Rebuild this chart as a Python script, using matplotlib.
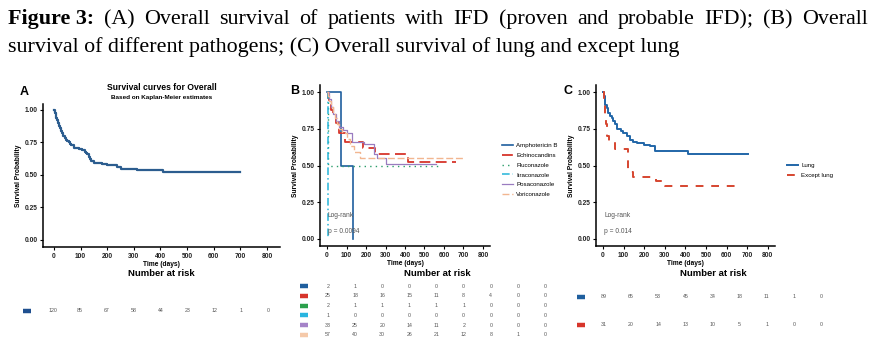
import matplotlib
matplotlib.use("Agg")
import matplotlib.pyplot as plt

# ── data ──────────────────────────────────────────────────────────────────────
TICKS = [0, 100, 200, 300, 400, 500, 600, 700, 800]

# A: overall KM curve
A_T = [0, 3, 6, 9, 12, 15, 18, 22, 26, 30, 35, 40, 45, 50, 55, 60, 65, 75, 85, 95,
       105, 115, 120, 125, 130, 135, 140, 150, 165, 180, 200, 220, 235, 250, 310, 410, 700]
A_S = [1.0, 0.98, 0.96, 0.94, 0.92, 0.90, 0.88, 0.86, 0.84, 0.82, 0.80, 0.785, 0.77, 0.76,
       0.75, 0.74, 0.73, 0.71, 0.705, 0.70, 0.69, 0.68, 0.67, 0.66, 0.64, 0.62, 0.605, 0.595,
       0.59, 0.585, 0.58, 0.575, 0.565, 0.545, 0.535, 0.52, 0.52]
A_RISK = [120, 85, 67, 58, 44, 23, 12, 1, 0]

# B: pathogens
B_NAMES = ["Amphotericin B", "Echinocandins", "Fluconazole", "Itraconazole",
           "Posaconazole", "Voriconazole"]
B_T = [
    [0, 70, 132],
    [0, 5, 12, 20, 30, 45, 60, 90, 185, 246, 415, 660],
    [0, 5, 570],
    [0, 5],
    [0, 8, 18, 30, 45, 60, 80, 100, 130, 190, 240, 255, 300, 560],
    [0, 5, 10, 20, 30, 40, 50, 60, 75, 100, 120, 140, 170, 705],
]
B_S = [
    [1.0, 0.5, 0.0],
    [1.0, 0.96, 0.92, 0.88, 0.84, 0.79, 0.72, 0.66, 0.62, 0.58, 0.526, 0.526],
    [1.0, 0.5, 0.5],
    [1.0, 0.0],
    [1.0, 0.95, 0.90, 0.85, 0.80, 0.76, 0.74, 0.72, 0.66, 0.645, 0.58, 0.55, 0.51, 0.51],
    [1.0, 0.97, 0.94, 0.90, 0.86, 0.82, 0.78, 0.75, 0.72, 0.68, 0.63, 0.59, 0.55, 0.55],
]
B_RISK = [
    [2, 1, 0, 0, 0, 0, 0, 0, 0],
    [25, 18, 16, 15, 11, 8, 4, 0, 0],
    [2, 1, 1, 1, 1, 1, 0, 0, 0],
    [1, 0, 0, 0, 0, 0, 0, 0, 0],
    [33, 25, 20, 14, 11, 2, 0, 0, 0],
    [57, 40, 30, 26, 21, 12, 8, 1, 0],
]

# C: lung vs except lung
C_NAMES = ["Lung", "Except lung"]
C_T = [
    [0, 3, 8, 12, 18, 25, 34, 42, 50, 60, 69, 85, 98, 115, 130, 145, 163, 200, 227, 251, 413, 702],
    [0, 3, 8, 14, 20, 27, 57, 120, 145, 255, 300, 650],
]
C_S = [
    [1.0, 0.97, 0.93, 0.91, 0.889, 0.86, 0.84, 0.82, 0.80, 0.78, 0.75, 0.735, 0.72, 0.70,
     0.673, 0.66, 0.65, 0.64, 0.635, 0.60, 0.578, 0.578],
    [1.0, 0.91, 0.85, 0.78, 0.70, 0.66, 0.61, 0.458, 0.424, 0.396, 0.363, 0.363],
]
C_RISK = [
    [89, 65, 53, 45, 34, 18, 11, 1, 0],
    [31, 20, 14, 13, 10, 5, 1, 0, 0],
]

CAPTION_1 = ["(A)", "Overall", "survival", "of", "patients", "with", "IFD", "(proven", "and",
             "probable", "IFD);", "(B)", "Overall"]
CAPTION_2 = "survival of different pathogens; (C) Overall survival of lung and except lung"

# ── style ─────────────────────────────────────────────────────────────────────
W, H = 884, 364
SANS = "Liberation Sans"
B_COL = ["#1f5f9e", "#d7352b", "#2a9d6a", "#25b4d8", "#9a7cc0", "#f2b690"]
B_RISK_COL = ["#1f5f9e", "#d7352b", "#2ca04c", "#29b5e0", "#a583c8", "#f5c9a9"]
B_LS = ["-", (0, (6, 3)), (0, (1, 3)), (0, (5, 2, 1, 2)), "-", (0, (5, 2))]
B_LW = [1.2, 1.3, 1.0, 1.1, 0.9, 1.0]
C_COL = ["#2166a8", "#d6452f"]
C_LS = ["-", (0, (4, 4))]

fig = plt.figure(figsize=(W / 100, H / 100), dpi=100)


def px_axes(x0, y0, x1, y1):
    return fig.add_axes([x0 / W, 1 - y1 / H, (x1 - x0) / W, (y1 - y0) / H])


def style(ax, xlim, ylim):
    ax.set_xlim(*xlim); ax.set_ylim(*ylim)
    for s in ["top", "right"]:
        ax.spines[s].set_visible(False)
    for s in ["left", "bottom"]:
        ax.spines[s].set_linewidth(1.1)
    ax.set_xticks(TICKS)
    ax.set_yticks([0, 0.25, 0.5, 0.75, 1.0])
    ax.set_yticklabels(["0.00", "0.25", "0.50", "0.75", "1.00"])
    ax.tick_params(length=2.5, width=0.8, pad=1.5, labelsize=4.8)
    for lab in ax.get_xticklabels() + ax.get_yticklabels():
        lab.set_fontweight("bold"); lab.set_family(SANS); lab.set_color("#222")
    ax.set_xlabel("Time (days)", fontsize=4.8, fontweight="bold", family=SANS, labelpad=1)
    ax.set_ylabel("Survival Probability", fontsize=4.8, fontweight="bold", family=SANS, labelpad=2)


def risk_table(x0, x1, t_at_x0, px_per_day, rows, colors, row_y):
    ax = px_axes(x0, 262, x1, 350)
    ax.set_xlim(t_at_x0, t_at_x0 + (x1 - x0) / px_per_day)
    ax.set_ylim(350, 262)
    ax.axis("off")
    ax.text(0.5, 273, "Number at risk", transform=ax.get_yaxis_transform(),
            ha="center", va="center", fontsize=6.8, fontweight="bold", family=SANS)
    for i, (vals, col) in enumerate(zip(rows, colors)):
        y = row_y[0] + i * row_y[1]
        ax.plot([0.0, 8 / (x1 - x0)], [y, y], color=col, lw=3.2, solid_capstyle="butt",
                transform=ax.get_yaxis_transform())
        for t, v in zip(TICKS, vals):
            ax.text(t, y, str(v), ha="center", va="center", fontsize=3.8, color="#555", family=SANS)
    return ax


# ── caption (line 1 justified between x=8 and x=868) ─────────────────────────
cap_kw = dict(family="Liberation Serif", fontsize=15.8, va="baseline")
r = fig.canvas.get_renderer()
head = fig.text(8 / W, 1 - 24 / H, "Figure 3:", fontweight="bold", **cap_kw)
words = [fig.text(0, 1 - 24 / H, w, **cap_kw) for w in CAPTION_1]
widths = [w.get_window_extent(r).width for w in words]
x = head.get_window_extent(r).x1
gap = (868 - x - sum(widths)) / len(words)
for w, wd in zip(words, widths):
    x += gap
    w.set_x(x / W)
    x += wd
fig.text(8 / W, 1 - 52 / H, CAPTION_2, **cap_kw)

# ── panel A ───────────────────────────────────────────────────────────────────
axA = px_axes(43, 104, 280, 247)
style(axA, (-41.3, 849), (-0.054, 1.046))
axA.step(A_T, A_S, where="post", color="#2c5d8f", lw=1.6)
fig.text(20 / W, 1 - 92 / H, "A", fontsize=9, fontweight="bold", family=SANS, va="center")
fig.text(162 / W, 1 - 87 / H, "Survival curves for Overall", fontsize=6.2, fontweight="bold",
         family=SANS, ha="center", va="center")
fig.text(162 / W, 1 - 97 / H, "Based on Kaplan-Meier estimates", fontsize=4.6,
         fontweight="bold", family=SANS, ha="center", va="center")
risk_table(23, 300, -(53 - 23) / 0.2688, 0.2688, [A_RISK], ["#1f4f8f"], (311, 0))

# ── panel B ───────────────────────────────────────────────────────────────────
axB = px_axes(320, 85, 490, 246)
style(axB, (-36, 836), (-0.048, 1.048))
for t, s, name, col, ls, lw in zip(B_T, B_S, B_NAMES, B_COL, B_LS, B_LW):
    axB.step(t, s, where="post", color=col, ls=ls, lw=lw, label=name)
axB.text(5, 0.16, "Log-rank", fontsize=4.8, color="#555", family=SANS, va="center")
axB.text(5, 0.05, "p = 0.0094", fontsize=4.8, color="#555", family=SANS, va="center")
axB.legend(loc="center left", bbox_to_anchor=(496 / W, 1 - 170 / H),
           bbox_transform=fig.transFigure, frameon=False, handlelength=1.9,
           labelspacing=0.75, handletextpad=0.5, prop=dict(family=SANS, size=4.4))
fig.text(290 / W, 1 - 91 / H, "B", fontsize=9, fontweight="bold", family=SANS, va="center")
risk_table(300, 574, -(328 - 300) / 0.2713, 0.2713, B_RISK, B_RISK_COL, (286, 9.8))

# ── panel C ───────────────────────────────────────────────────────────────────
axC = px_axes(596, 85, 775, 246)
style(axC, (-34, 835), (-0.048, 1.048))
for t, s, name, col, ls in zip(C_T, C_S, C_NAMES, C_COL, C_LS):
    axC.step(t, s, where="post", color=col, ls=ls, lw=1.4, label=name)
axC.text(5, 0.16, "Log-rank", fontsize=4.8, color="#555", family=SANS, va="center")
axC.text(5, 0.05, "p = 0.014", fontsize=4.8, color="#555", family=SANS, va="center")
axC.legend(loc="center left", bbox_to_anchor=(781 / W, 1 - 170.5 / H),
           bbox_transform=fig.transFigure, frameon=False, handlelength=1.9,
           labelspacing=0.8, handletextpad=0.5, prop=dict(family=SANS, size=4.4))
fig.text(563 / W, 1 - 91 / H, "C", fontsize=9, fontweight="bold", family=SANS, va="center")
risk_table(577, 849, -(604 - 577) / 0.2713, 0.2713, C_RISK, ["#1f5f9e", "#d7352b"], (297, 28))

fig.savefig("out.png", dpi=100, facecolor="white")
